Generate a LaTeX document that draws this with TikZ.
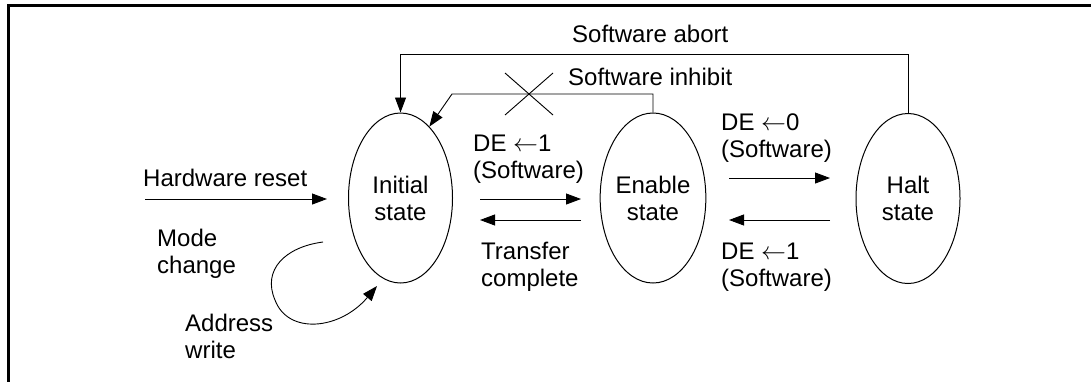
\documentclass[tikz,border=0pt]{standalone}
\usepackage{fontspec}
\setmainfont{Liberation Sans}
\usetikzlibrary{arrows.meta,shapes.geometric}
\tikzset{
  thin line/.style={line width=0.9pt},
  arr/.style={thin line,-{Triangle[length=15pt,width=11pt]}},
  stateov/.style={draw,ellipse,line width=1pt,minimum width=104pt,minimum height=170pt,inner sep=0pt,align=center,font=\fontsize{24}{27}\selectfont},
  lbl/.style={inner sep=0pt,anchor=base west,align=left,font=\fontsize{24}{27}\selectfont},
}
\begin{document}
\begin{tikzpicture}[x=1pt,y=-1pt]
\useasboundingbox (0,0) rectangle (1091,381);
% frame
\draw[line width=3pt] (8.5,382) -- (8.5,5.5) -- (1092,5.5);
% states
\node[stateov] (initial) at (400.5,198) {Initial\\state};
\node[stateov] (enable) at (653,198) {Enable\\state};
\node[stateov] (halt) at (908,198.5) {Halt\\state};
% helper coordinates
\coordinate (yab) at (0,54);
\coordinate (inbend) at (452,94);
% software abort
\draw[arr] (halt.north) -- (halt.north |- yab) -| (initial.north);
% software inhibit
\draw[arr] (enable.north) |- (inbend) -- (initial.68);
% cross
\draw[thin line] (505,73) -- (553,115);
\draw[thin line] (505,115) -- (553,73);
% horizontal arrows
\coordinate (ie1) at (480,199);
\coordinate (ie2) at (581,199);
\coordinate (ei1) at (581,220);
\coordinate (ei2) at (480,220);
\coordinate (eh1) at (729,178);
\coordinate (eh2) at (830,178);
\coordinate (he1) at (830,220);
\coordinate (he2) at (729,220);
\coordinate (hw1) at (145,199);
\coordinate (hw2) at (327,199);
\draw[arr] (ie1) -- (ie2);
\draw[arr] (ei1) -- (ei2);
\draw[arr] (eh1) -- (eh2);
\draw[arr] (he1) -- (he2);
\draw[arr] (hw1) -- (hw2);
% self loop
\coordinate (ls) at (323,242);
\coordinate (le) at (377,286);
\draw[arr] (ls) .. controls (285,247) and (262,270) .. (275,300)
  .. controls (288,335) and (340,330) .. (le);
% labels (base = baseline of last line)
\node[lbl] (tabort) at (572,42.7) {Software abort};
\node[lbl] (tinhibit) at (568,85) {Software inhibit};
\node[lbl] (tde1) at (473,178.5) {DE \ensuremath{\leftarrow}1\\(Software)};
\node[lbl] (ttransfer) at (481,286) {Transfer\\complete};
\node[lbl] (tde0) at (721,157.5) {DE \ensuremath{\leftarrow}0\\(Software)};
\node[lbl] (tde1b) at (721,286.3) {DE \ensuremath{\leftarrow}1\\(Software)};
\node[lbl] (thw) at (143,186) {Hardware reset};
\node[lbl] (tmode) at (157,273.5) {Mode\\change};
\node[lbl] (taddr) at (185,358.5) {Address\\write};
\end{tikzpicture}
\end{document}
